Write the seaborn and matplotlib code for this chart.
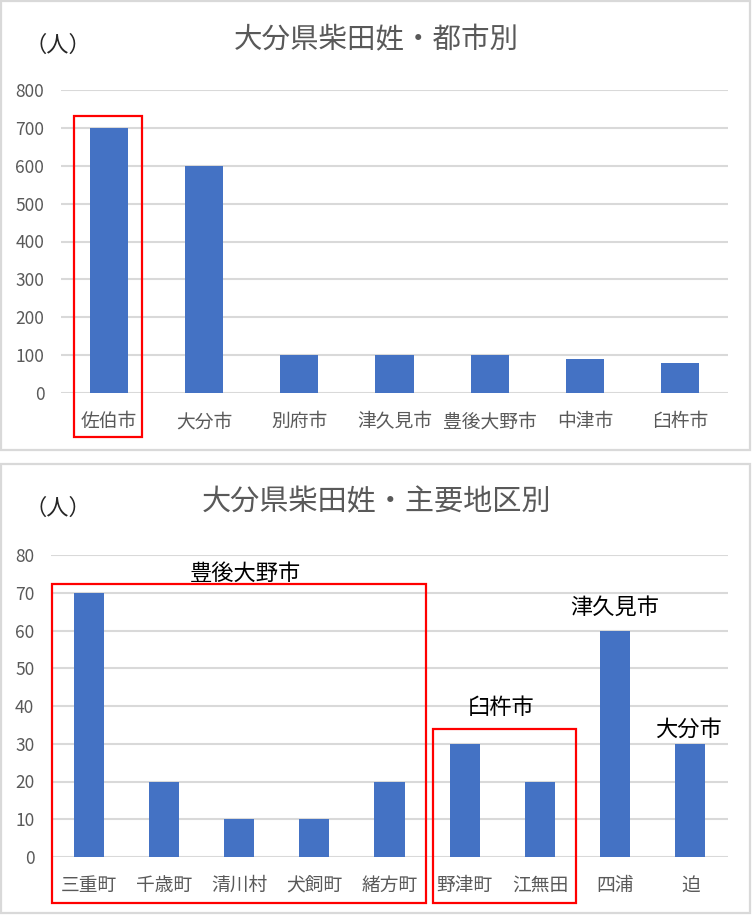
import matplotlib
matplotlib.use("Agg")
import matplotlib.pyplot as plt
from matplotlib.patches import Rectangle
import seaborn as sns
import pandas as pd

sns.set_theme(style="white")
plt.rcParams['font.family'] = ['Noto Sans CJK JP', 'DejaVu Sans']

# ---- data ----
city_names = ["佐伯市", "大分市", "別府市", "津久見市", "豊後大野市", "中津市", "臼杵市"]
city_values = [700, 600, 100, 100, 100, 90, 80]
city_ticks = [0, 100, 200, 300, 400, 500, 600, 700, 800]

area_names = ["三重町", "千歳町", "清川村", "犬飼町", "緒方町", "野津町", "江無田", "四浦", "迫"]
area_values = [70, 20, 10, 10, 20, 30, 20, 60, 30]
area_ticks = [0, 10, 20, 30, 40, 50, 60, 70, 80]

title1 = "大分県柴田姓・都市別"
title2 = "大分県柴田姓・主要地区別"
unit_label = "（人）"
group_labels = ["豊後大野市", "臼杵市", "津久見市", "大分市"]

BAR = "#4472C4"
TXT = "#595959"
GRID = "#D9D9D9"

W, H = 752, 915
fig = plt.figure(figsize=(W / 100, H / 100), dpi=100)

def px_axes(x0, x1, ytop, ybot):
    return fig.add_axes([x0 / W, (H - ybot) / H, (x1 - x0) / W, (ybot - ytop) / H])

def panel(x0, y0, x1, y1):
    fig.patches.append(Rectangle((x0 / W, (H - y1) / H), (x1 - x0) / W, (y1 - y0) / H,
                                 transform=fig.transFigure, fill=False,
                                 edgecolor=GRID, linewidth=1.6))

panel(1, 1, 750, 450)
panel(1, 464, 750, 913)

def style(ax, ticks):
    ax.set_ylim(ticks[0], ticks[-1])
    ax.set_yticks(ticks)
    ax.yaxis.grid(True, color=GRID, linewidth=1.5)
    ax.set_axisbelow(True)
    for s in ax.spines.values():
        s.set_visible(False)
    ax.tick_params(axis="both", length=0, colors=TXT)
    ax.tick_params(axis="y", labelsize=12.5, pad=12)
    ax.tick_params(axis="x", labelsize=13.5, pad=13)
    ax.set_xlabel("")
    ax.set_ylabel("")

# ---- top chart ----
ax1 = px_axes(61, 728, 90, 393)
df1 = pd.DataFrame({"name": city_names, "value": city_values})
sns.barplot(data=df1, x="name", y="value", color=BAR, width=0.4, saturation=1,
            linewidth=0, ax=ax1)
style(ax1, city_ticks)
ax1.set_xlim(-0.5, len(city_names) - 0.5)
ax1.add_patch(Rectangle((-0.365, -116), 0.715, 731 + 116, fill=False,
                        edgecolor="#FF0000", linewidth=1.6, clip_on=False))
fig.text(376 / W, 1 - 40 / H, title1, ha="center", va="center", fontsize=20.5, color=TXT)
fig.text(58 / W, 1 - 45 / H, unit_label, ha="center", va="center", fontsize=16, color="#262626")

# ---- bottom chart ----
ax2 = px_axes(51, 728, 555, 857)
df2 = pd.DataFrame({"name": area_names, "value": area_values})
sns.barplot(data=df2, x="name", y="value", color=BAR, width=0.4, saturation=1,
            linewidth=0, ax=ax2)
style(ax2, area_ticks)
ax2.set_xlim(-0.5, len(area_names) - 0.5)
ax2.add_patch(Rectangle((-0.487, -12.2), 4.974, 72.3 + 12.2, fill=False,
                        edgecolor="#FF0000", linewidth=1.6, clip_on=False))
ax2.add_patch(Rectangle((4.58, -12.2), 1.90, 33.9 + 12.2, fill=False,
                        edgecolor="#FF0000", linewidth=1.6, clip_on=False))
label_pos = [(2.08, 75.2), (5.48, 39.7), (7.0, 66.2), (7.97, 33.9)]
for lab, (lx, ly) in zip(group_labels, label_pos):
    ax2.text(lx, ly, lab, ha="center", va="center", fontsize=16, color="black", clip_on=False)
fig.text(376 / W, 1 - 502 / H, title2, ha="center", va="center", fontsize=21, color=TXT)
fig.text(58 / W, 1 - 508 / H, unit_label, ha="center", va="center", fontsize=16, color="#262626")

fig.savefig("out.png", dpi=100, facecolor="white")
